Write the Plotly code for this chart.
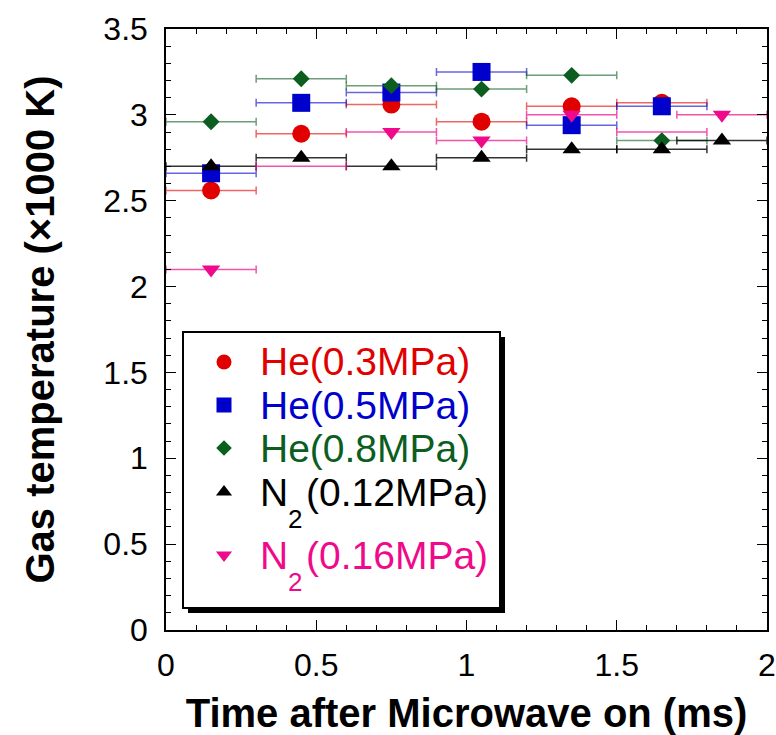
import plotly.graph_objects as go

# ---------------- data ----------------
time_he = [0.15, 0.45, 0.75, 1.05, 1.35, 1.65]
time_n2 = [0.15, 0.45, 0.75, 1.05, 1.35, 1.65, 1.85]
he_03 = [2.56, 2.89, 3.06, 2.96, 3.05, 3.07]
he_05 = [2.66, 3.07, 3.13, 3.25, 2.94, 3.05]
he_08 = [2.96, 3.21, 3.17, 3.15, 3.23, 2.85]
n2_012 = [2.70, 2.75, 2.70, 2.75, 2.80, 2.80, 2.85]
n2_016 = [2.10, 2.70, 2.90, 2.85, 3.00, 2.90, 3.00]
n2_016_marker_shown = [True, False, True, True, True, False, True]
time_halfwidth = 0.15

names = ["He(0.3MPa)", "He(0.5MPa)", "He(0.8MPa)", "N2(0.12MPa)", "N2(0.16MPa)"]
x_ticks = [0, 0.5, 1, 1.5, 2]
y_ticks = [0, 0.5, 1, 1.5, 2, 2.5, 3, 3.5]

# ---------------- styles ----------------
colors = ["#e00000", "#0000cc", "#0b5e1f", "#000000", "#ee0a8a"]
bar_colors = ["rgba(230,0,0,0.6)", "rgba(0,0,204,0.6)", "rgba(11,94,31,0.6)",
              "rgba(0,0,0,0.8)", "rgba(238,10,138,0.7)"]
symbols = ["circle", "square", "diamond", "triangle-up", "triangle-down"]
sizes = [18, 18, 13, 16, 16]
leg_sizes = [15, 15, 12, 14, 14]

series = [(time_he, he_03), (time_he, he_05), (time_he, he_08),
          (time_n2, n2_012), (time_n2, n2_016)]

FONT = "Liberation Sans, Arial, sans-serif"
L, R, T, B = 166, 9, 29, 105
W, H = 776, 735
PW, PH = W - L - R, H - T - B
XR, YR = [0, 2], [0, 3.5]

def px_x(px):
    return (px - L) / PW

def px_y(py):
    return (H - B - py) / PH

fig = go.Figure()
for i, (xs, ys) in enumerate(series):
    if i == 4:
        msize = [sizes[i] if s else 0 for s in n2_016_marker_shown]
    else:
        msize = sizes[i]
    fig.add_trace(go.Scatter(
        x=xs, y=ys, mode="markers", name=names[i], showlegend=False,
        marker=dict(symbol=symbols[i], size=msize, color=colors[i], opacity=1,
                    line=dict(width=0)),
        error_x=dict(type="constant", value=time_halfwidth, symmetric=True,
                     color=bar_colors[i], thickness=1.5, width=4),
    ))

# ---------------- legend (drawn by hand) ----------------
leg_left, leg_top, leg_right, leg_bottom = 183, 332, 500, 608
shadow = 5
fig.add_shape(type="rect", xref="paper", yref="paper", layer="below",
              x0=px_x(leg_left + shadow), x1=px_x(leg_right + shadow),
              y0=px_y(leg_top + shadow), y1=px_y(leg_bottom + shadow),
              fillcolor="black", line=dict(color="black", width=0))
fig.add_shape(type="rect", xref="paper", yref="paper", layer="below",
              x0=px_x(leg_left), x1=px_x(leg_right),
              y0=px_y(leg_top), y1=px_y(leg_bottom),
              fillcolor="white", line=dict(color="black", width=2))

row_y = [362, 405, 448, 492, 555]
marker_x = 224
text_x = 258
# legend symbols: place in data units of the main axes from pixel spots
fig.add_trace(go.Scatter(
    x=[XR[0] + px_x(marker_x) * (XR[1] - XR[0])] * 5,
    y=[YR[0] + px_y(v) * (YR[1] - YR[0]) for v in row_y],
    mode="markers", showlegend=False, hoverinfo="skip",
    marker=dict(symbol=symbols, size=leg_sizes, color=colors, opacity=1,
                line=dict(width=0)),
))

LEG_FS = 39
SUB_FS = 26
for i, name in enumerate(names):
    if name.startswith("N2"):
        fig.add_annotation(x=px_x(text_x), y=px_y(row_y[i]), xref="paper", yref="paper",
                           xanchor="left", yanchor="middle", showarrow=False,
                           text="N", font=dict(family=FONT, size=LEG_FS, color=colors[i]))
        fig.add_annotation(x=px_x(286), y=px_y(row_y[i] + 27), xref="paper", yref="paper",
                           xanchor="left", yanchor="middle", showarrow=False,
                           text="2", font=dict(family=FONT, size=SUB_FS, color=colors[i]))
        fig.add_annotation(x=px_x(304), y=px_y(row_y[i]), xref="paper", yref="paper",
                           xanchor="left", yanchor="middle", showarrow=False,
                           text=name[2:], font=dict(family=FONT, size=LEG_FS, color=colors[i]))
    else:
        fig.add_annotation(x=px_x(text_x), y=px_y(row_y[i]), xref="paper", yref="paper",
                           xanchor="left", yanchor="middle", showarrow=False,
                           text=name, font=dict(family=FONT, size=LEG_FS, color=colors[i]))

axis_common = dict(
    showline=True, linecolor="black", linewidth=1.5, mirror="ticks",
    ticks="inside", ticklen=10, tickwidth=1.2, tickcolor="black",
    showgrid=False, zeroline=False, automargin=False,
    tickfont=dict(family=FONT, size=32, color="black"),
)

fig.update_layout(
    width=W, height=H, margin=dict(l=L, r=R, t=T, b=B),
    paper_bgcolor="white", plot_bgcolor="white",
    xaxis=dict(range=XR, tickvals=x_ticks,
               minor=dict(dtick=0.1, ticks="inside", ticklen=5, tickcolor="black", tickwidth=1),
               title=dict(text="Time after Microwave on (ms)", standoff=35,
                          font=dict(family=FONT, size=40, color="black", weight="bold")),
               ticklabelstandoff=6, **axis_common),
    yaxis=dict(range=YR, tickvals=y_ticks,
               minor=dict(dtick=0.1, ticks="inside", ticklen=5, tickcolor="black", tickwidth=1),
               title=dict(text="Gas temperature (×1000 K)", standoff=36,
                          font=dict(family=FONT, size=40, color="black", weight="bold")),
               ticklabelstandoff=10, **axis_common),
    showlegend=False,
)

fig.write_html("out.html")
